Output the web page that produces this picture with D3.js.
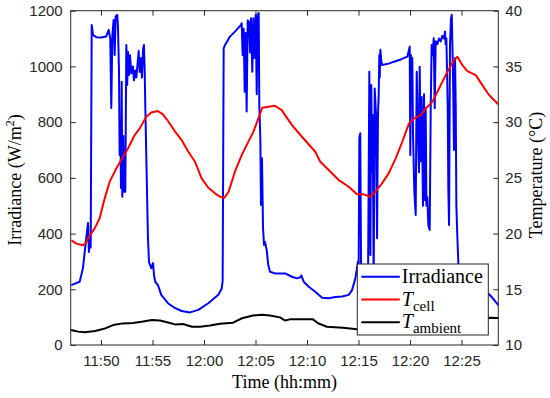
<!DOCTYPE html>
<html>
<head>
<meta charset="utf-8">
<script src="https://cdn.jsdelivr.net/npm/d3@7"></script>
<style>
  body { margin: 0; background: #fff; }
  .tick text { font-family: "Liberation Sans", Arial, sans-serif; font-size: 15px; fill: #262626; }
  .tick line { stroke: #262626; }
  .lbl { font-family: "Liberation Serif", "DejaVu Serif", serif; fill: #000; }
</style>
</head>
<body>
<script>
// time = minutes after 11:00
var irrTime = [47.12, 47.93, 48.25, 48.57, 48.74, 48.83, 48.93, 49.0, 49.1, 49.22, 49.55, 50.03, 50.5, 50.75, 50.9, 51.0, 51.1, 51.23, 51.33, 51.42, 51.58, 51.65, 51.75, 51.81, 51.88, 51.94, 52.01, 52.07, 52.17, 52.23, 52.3, 52.36, 52.46, 52.55, 52.62, 52.72, 52.82, 52.94, 53.1, 53.2, 53.33, 53.43, 53.53, 53.66, 53.76, 53.85, 53.98, 54.08, 54.17, 54.24, 54.3, 54.43, 54.56, 54.66, 54.88, 55.05, 55.15, 55.27, 55.53, 55.85, 56.5, 57.16, 57.83, 58.64, 59.45, 60.42, 61.39, 61.72, 61.81, 61.91, 62.04, 62.52, 63.01, 63.59, 63.66, 63.75, 63.85, 63.95, 64.05, 64.14, 64.24, 64.37, 64.47, 64.56, 64.69, 64.79, 64.88, 65.02, 65.12, 65.21, 65.31, 65.37, 65.47, 65.53, 65.63, 65.73, 65.83, 65.92, 66.09, 66.24, 66.41, 66.89, 67.86, 68.54, 69.03, 69.35, 69.45, 69.68, 70.17, 70.8, 71.46, 72.1, 72.75, 73.4, 74.05, 74.37, 74.69, 74.85, 74.95, 75.0, 75.08, 75.17, 75.27, 75.66, 75.92, 76.05, 76.15, 76.24, 76.31, 76.38, 76.47, 76.57, 76.7, 76.8, 76.89, 76.96, 77.02, 77.06, 77.12, 77.21, 77.28, 77.93, 78.45, 79.1, 79.74, 79.97, 80.03, 80.1, 80.16, 80.22, 80.29, 80.42, 80.55, 80.65, 80.75, 80.87, 80.94, 81.04, 81.13, 81.2, 81.26, 81.36, 81.46, 81.52, 81.59, 81.68, 81.78, 81.91, 82.01, 82.1, 82.2, 82.3, 82.4, 82.49, 82.65, 82.82, 82.98, 83.14, 83.3, 83.4, 83.46, 83.53, 83.66, 83.72, 83.79, 83.88, 83.98, 84.05, 84.17, 84.27, 84.37, 84.44, 84.5, 84.6, 84.7, 85.0, 85.5, 86.0, 86.5, 87.0, 87.6, 88.1, 88.57];
var irrValue = [215, 227, 276, 384, 438, 334, 380, 350, 1149, 1113, 1105, 1104, 1107, 1131, 1100, 851, 1110, 1167, 1041, 1179, 1185, 1140, 981, 682, 800, 564, 945, 532, 750, 550, 700, 550, 1077, 933, 1053, 969, 1040, 975, 1000, 950, 985, 960, 1000, 1055, 980, 1030, 960, 1060, 1077, 990, 862, 620, 384, 298, 276, 294, 250, 227, 215, 180, 150, 133, 122, 117, 126, 150, 180, 203, 230, 1065, 1077, 1107, 1125, 1149, 1155, 1041, 1135, 909, 1120, 838, 1165, 1160, 1050, 1173, 981, 1173, 1030, 1185, 900, 1185, 1192, 862, 740, 503, 670, 420, 359, 370, 340, 287, 263, 257, 257, 245, 239, 243, 250, 227, 209, 191, 170, 168, 172, 174, 180, 197, 239, 276, 300, 180, 742, 760, 150, 150, 200, 981, 323, 933, 622, 826, 200, 921, 826, 383, 826, 900, 1041, 960, 1060, 1020, 1005, 1010, 1017, 1025, 1035, 1071, 682, 1040, 880, 1030, 760, 550, 467, 981, 800, 620, 999, 660, 890, 680, 500, 900, 520, 850, 500, 530, 430, 413, 850, 1077, 1040, 1101, 850, 1090, 1080, 1100, 1090, 1110, 1100, 1125, 1080, 1100, 860, 560, 431, 1077, 1173, 1185, 980, 700, 1030, 850, 500, 383, 287, 250, 225, 210, 200, 192, 185, 165, 143];

var cellTime = [47.12, 47.6, 48.25, 48.57, 48.9, 49.39, 49.87, 50.36, 50.84, 51.49, 52.14, 52.62, 53.27, 53.76, 54.4, 54.88, 55.53, 56.02, 56.5, 57.16, 57.83, 58.48, 59.13, 59.77, 60.42, 61.07, 61.55, 61.97, 62.39, 63.0, 63.66, 64.14, 64.79, 65.28, 65.66, 66.24, 66.89, 67.54, 68.54, 69.51, 70.8, 71.29, 72.1, 73.08, 74.05, 74.85, 75.5, 76.15, 76.63, 77.28, 77.93, 78.61, 79.25, 79.9, 80.39, 81.04, 81.52, 82.17, 82.82, 83.62, 84.27, 84.6, 85.08, 85.57, 86.38, 87.02, 87.67, 88.57];
var cellValue = [19.4, 19.1, 18.95, 19.2, 19.8, 20.47, 21.37, 23.16, 24.65, 25.85, 26.89, 27.64, 28.84, 29.44, 30.48, 30.87, 30.99, 30.7, 30.1, 29.2, 28.39, 27.34, 26.44, 24.95, 24.11, 23.61, 23.3, 23.21, 23.75, 25.55, 27.04, 27.94, 29.13, 30.33, 31.29, 31.38, 31.47, 31.08, 29.73, 28.69, 27.34, 26.44, 25.7, 24.8, 24.2, 23.52, 23.52, 23.3, 23.75, 24.5, 25.4, 26.75, 28.24, 29.89, 30.33, 30.63, 31.23, 31.82, 33.02, 34.51, 35.56, 35.86, 35.12, 34.58, 34.22, 33.32, 32.43, 31.6];

var ambTime = [47.09, 47.77, 48.45, 49.42, 50.29, 51.17, 52.14, 53.11, 54.08, 54.95, 55.73, 56.41, 57.18, 57.96, 58.83, 59.61, 60.58, 61.55, 62.82, 63.69, 64.76, 65.63, 66.41, 67.38, 67.86, 68.35, 70.58, 71.07, 71.94, 73.5, 74.85, 78.0, 82.0, 85.0, 87.6, 88.57];
var ambValue = [11.35, 11.2, 11.14, 11.25, 11.45, 11.79, 11.94, 11.98, 12.1, 12.24, 12.2, 12.04, 11.85, 11.88, 11.64, 11.64, 11.75, 11.9, 12.0, 12.4, 12.65, 12.72, 12.65, 12.48, 12.2, 12.3, 12.3, 11.95, 11.64, 11.55, 11.41, 11.6, 12.0, 12.3, 12.45, 12.42];

var xTicks = ["11:50", "11:55", "12:00", "12:05", "12:10", "12:15", "12:20", "12:25"];
var irrTicks = [0, 200, 400, 600, 800, 1000, 1200];
var tempTicks = [10, 15, 20, 25, 30, 35, 40];
var xStart = 47.06, xEnd = 88.57;

function toDate(m) { return new Date(2020, 0, 1, 11, 0, 0, Math.round(m * 60000)); }
var parse = d3.timeParse("%H:%M");
function tickDate(s) { var p = parse(s); return new Date(2020, 0, 1, p.getHours(), p.getMinutes()); }

var W = 550, H = 398;
var margin = {left: 70.7, right: 51.7, top: 10.7, bottom: 53};
var width = W - margin.left - margin.right,
    height = H - margin.top - margin.bottom;

var x = d3.scaleTime().domain([toDate(xStart), toDate(xEnd)]).range([0, width]);
var yL = d3.scaleLinear().domain([0, 1200]).range([height, 0]);
var yR = d3.scaleLinear().domain([10, 40]).range([height, 0]);

var svg = d3.select("body").append("svg")
    .attr("width", W)
    .attr("height", H);

var g = svg.append("g")
    .attr("transform", "translate(" + margin.left + "," + margin.top + ")");

g.append("clipPath").attr("id", "clip")
  .append("rect").attr("width", width).attr("height", height);

// axes with inward ticks
var xt = xTicks.map(tickDate);
g.append("g").attr("transform", "translate(0," + height + ")")
    .call(d3.axisBottom(x).tickValues(xt).tickFormat(d3.timeFormat("%H:%M")).tickSizeInner(-5).tickSizeOuter(0).tickPadding(10));
g.append("g")
    .call(d3.axisTop(x).tickValues(xt).tickFormat("").tickSizeInner(-5).tickSizeOuter(0));
g.append("g")
    .call(d3.axisLeft(yL).tickValues(irrTicks).tickFormat(d3.format("d")).tickSizeInner(-5).tickSizeOuter(0).tickPadding(8));
g.append("g").attr("transform", "translate(" + width + ",0)")
    .call(d3.axisRight(yR).tickValues(tempTicks).tickFormat(d3.format("d")).tickSizeInner(-5).tickSizeOuter(0).tickPadding(7));
g.selectAll(".domain").remove();
g.selectAll(".tick text").attr("font-family", null).attr("font-size", null);

g.append("rect")
    .attr("width", width).attr("height", height)
    .attr("fill", "none").attr("stroke", "#262626").attr("stroke-width", 1);

// series
var plot = g.append("g").attr("clip-path", "url(#clip)");

var lineL = d3.line()
    .x(function(d) { return x(toDate(d[0])); })
    .y(function(d) { return yL(d[1]); });
var lineR = d3.line()
    .x(function(d) { return x(toDate(d[0])); })
    .y(function(d) { return yR(d[1]); });

plot.append("path")
    .datum(d3.zip(irrTime, irrValue))
    .attr("d", lineL).attr("fill", "none")
    .attr("stroke", "#0000ff").attr("stroke-width", 2).attr("stroke-linejoin", "round");
plot.append("path")
    .datum(d3.zip(cellTime, cellValue))
    .attr("d", lineR).attr("fill", "none")
    .attr("stroke", "#ff0000").attr("stroke-width", 2).attr("stroke-linejoin", "round");
plot.append("path")
    .datum(d3.zip(ambTime, ambValue))
    .attr("d", lineR).attr("fill", "none")
    .attr("stroke", "#000000").attr("stroke-width", 2).attr("stroke-linejoin", "round");

// axis labels
svg.append("text").attr("class", "lbl")
    .attr("x", margin.left + width / 2).attr("y", 388)
    .attr("text-anchor", "middle").attr("font-size", 18)
    .text("Time (hh:mm)");

var yl = svg.append("text").attr("class", "lbl")
    .attr("transform", "translate(21,180) rotate(-90)")
    .attr("text-anchor", "middle").attr("font-size", 18);
yl.append("tspan").text("Irradiance (W/m");
yl.append("tspan").attr("dy", -7).attr("font-size", 12).text("2");
yl.append("tspan").attr("dy", 7).text(")");

svg.append("text").attr("class", "lbl")
    .attr("transform", "translate(542,175) rotate(-90)")
    .attr("text-anchor", "middle").attr("font-size", 18)
    .text("Temperature (\u00b0C)");

// legend
var leg = svg.append("g").attr("transform", "translate(357.3,264)");
leg.append("rect").attr("width", 131).attr("height", 71)
    .attr("fill", "#fff").attr("stroke", "#262626").attr("stroke-width", 1);
var legItems = [
  {name: "Irradiance", color: "#0000ff"},
  {name: "T", sub: "cell", color: "#ff0000"},
  {name: "T", sub: "ambient", color: "#000000"}
];
legItems.forEach(function(d, i) {
  var cy = 12.7 + i * 22.8;
  leg.append("line").attr("x1", 4).attr("x2", 42.5).attr("y1", cy).attr("y2", cy)
      .attr("stroke", d.color).attr("stroke-width", 2);
  var t = leg.append("text").attr("class", "lbl")
      .attr("x", 44.5).attr("y", cy + 6).attr("font-size", 20);
  if (d.sub) {
    t.append("tspan").attr("font-style", "italic").text(d.name);
    t.append("tspan").attr("dy", 5).attr("font-size", 15).text(d.sub);
  } else {
    t.text(d.name);
  }
});
</script>
</body>
</html>
